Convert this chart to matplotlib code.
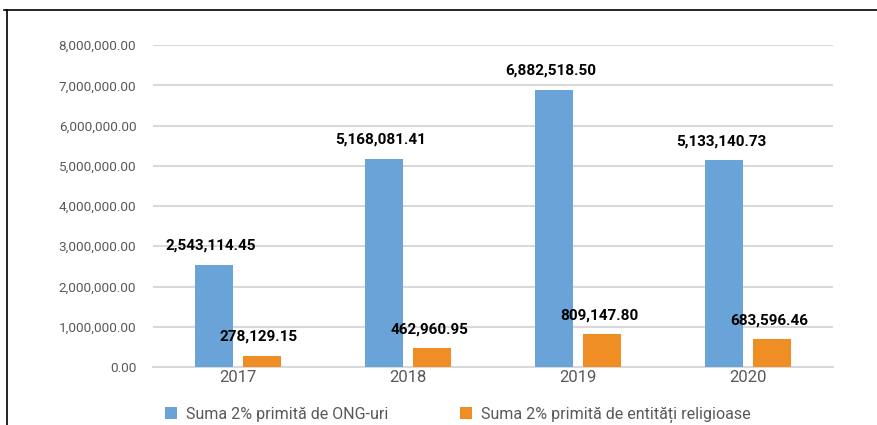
import numpy as np
from matplotlib import pyplot as plt
from matplotlib.lines import Line2D

years = ["2017", "2018", "2019", "2020"]
ong = [2543114.45, 5168081.41, 6882518.50, 5133140.73]
religioase = [278129.15, 462960.95, 809147.80, 683596.46]
series_names = ["Suma 2% primită de ONG-uri", "Suma 2% primită de entități religioase"]

plt.rcParams['font.family'] = ['Roboto', 'DejaVu Sans']

fig = plt.figure(figsize=(8.77, 4.25), dpi=100)
ax = fig.add_axes([0.1745, 0.1365, 0.7755, 0.7575])

x = np.arange(len(years))
w = 0.224
off = 0.141
blue = "#6aa3d8"
orange = "#ee8e24"

b1 = ax.bar(x - off, ong, w, color=blue, label=series_names[0], zorder=3)
b2 = ax.bar(x + off, religioase, w, color=orange, label=series_names[1], zorder=3)

for bars, vals in ((b1, ong), (b2, religioase)):
    for rect, v in zip(bars, vals):
        ax.annotate(f"{v:,.2f}", (rect.get_x() + rect.get_width() / 2, v),
                    xytext=(-3, 19), textcoords="offset pixels",
                    ha="center", va="center", fontsize=11, fontweight="bold",
                    color="black", zorder=4)

ax.set_xlim(-0.5, len(years) - 0.5)
ax.set_ylim(0, 8000000)
ax.set_yticks(np.arange(0, 8000001, 1000000))
ax.set_yticklabels([f"{t:,.2f}" for t in np.arange(0, 8000001, 1000000)])
ax.set_xticks(x)
ax.set_xticklabels(years)
ax.tick_params(axis="y", length=0, pad=12, labelsize=9.7, labelcolor="#595959")
ax.tick_params(axis="x", length=0, pad=2, labelsize=12, labelcolor="#595959")
ax.grid(axis="y", color="#d9d9d9", linewidth=1.5, zorder=0)
for s in ["top", "right", "left"]:
    ax.spines[s].set_visible(False)
ax.spines["bottom"].set_color("#d9d9d9")
ax.spines["bottom"].set_linewidth(1.5)

fig.legend(handles=[b1, b2], loc="center left", bbox_to_anchor=(165 / 877, 1 - 415 / 425),
           ncol=2, frameon=False, fontsize=11.5, labelcolor="#595959",
           handlelength=0.75, handleheight=0.75, handletextpad=0.55,
           columnspacing=4.5, borderpad=0, borderaxespad=0)

# frame of the original picture (top and left edges visible)
fig.add_artist(Line2D([0.005, 1.0], [1 - 10 / 425, 1 - 10 / 425],
                      transform=fig.transFigure, color="black", linewidth=1.2))
fig.add_artist(Line2D([7 / 877, 7 / 877], [0, 1 - 10 / 425],
                      transform=fig.transFigure, color="black", linewidth=1.2))

fig.savefig("out.png", dpi=100)
